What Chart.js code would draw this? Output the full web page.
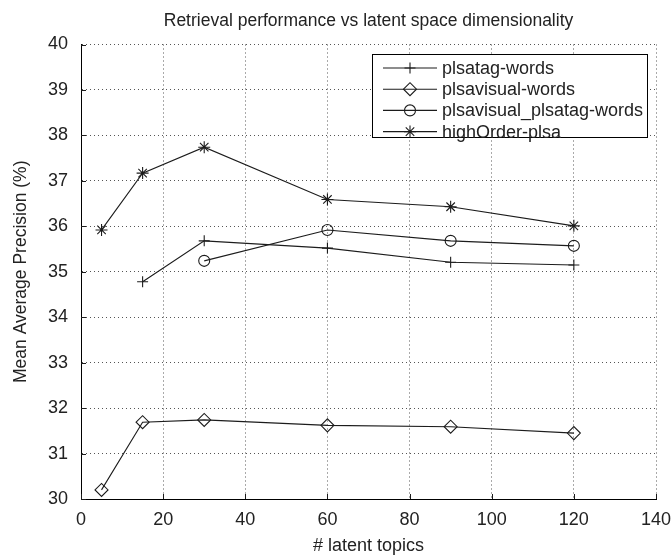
<!DOCTYPE html>
<html>
<head>
<meta charset="utf-8">
<title>Retrieval performance vs latent space dimensionality</title>
<script src="https://cdn.jsdelivr.net/npm/chart.js@4.4.1/dist/chart.umd.min.js"></script>
<style>
  html, body { margin: 0; padding: 0; background: #fff; }
  #wrap { width: 671px; height: 557px; position: relative; }
</style>
</head>
<body>
<div id="wrap"><canvas id="chart"></canvas></div>
<script>
// values
const titleText = "Retrieval performance vs latent space dimensionality";
const seriesNames = ["plsatag-words", "plsavisual-words", "plsavisual_plsatag-words", "highOrder-plsa"];
const plsatagX = [15, 30, 60, 90, 120];
const plsatagY = [34.78, 35.68, 35.52, 35.21, 35.15];
const visualX = [5, 15, 30, 60, 90, 120];
const visualY = [30.20, 31.69, 31.74, 31.62, 31.59, 31.45];
const visualTagX = [30, 60, 90, 120];
const visualTagY = [35.24, 35.92, 35.68, 35.57];
const highOrderX = [5, 15, 30, 60, 90, 120];
const highOrderY = [35.92, 37.17, 37.74, 36.59, 36.43, 36.01];
const xTicks = [0, 20, 40, 60, 80, 100, 120, 140];
const yTicks = [30, 31, 32, 33, 34, 35, 36, 37, 38, 39, 40];

const ink = "#1c1c1c";
const font = "'Liberation Sans', Arial, Helvetica, sans-serif";

function pts(xs, ys) {
    return xs.map((x, i) => ({ x: x, y: ys[i] }));
}

function makeSet(label, xs, ys, style, radius) {
    return {
        label: label,
        data: pts(xs, ys),
        borderColor: ink,
        borderWidth: 1.1,
        pointStyle: style,
        pointRadius: radius,
        pointBorderColor: ink,
        pointBackgroundColor: "rgba(0,0,0,0)",
        pointBorderWidth: 1.1,
        tension: 0
    };
}

const datasets = [
    makeSet(seriesNames[0], plsatagX, plsatagY, "cross", 5.5),
    makeSet(seriesNames[1], visualX, visualY, "rectRot", 6.5),
    makeSet(seriesNames[2], visualTagX, visualTagY, "circle", 5.5),
    makeSet(seriesNames[3], highOrderX, highOrderY, "star", 6)
];

// title centred over the plot area, as in the original
const plotTitle = {
    id: "plotTitle",
    afterDraw(chart) {
        const { ctx, chartArea: a } = chart;
        ctx.save();
        ctx.font = "17.5px " + font;
        ctx.fillStyle = "#222";
        ctx.textAlign = "center";
        ctx.textBaseline = "middle";
        ctx.fillText(titleText, (a.left + a.right) / 2, 21);
        ctx.restore();
    }
};

// inward tick marks like the original plot
const innerTicks = {
    id: "innerTicks",
    afterDraw(chart) {
        const { ctx, chartArea: a, scales } = chart;
        ctx.save();
        ctx.strokeStyle = ink;
        ctx.lineWidth = 1;
        ctx.beginPath();
        xTicks.forEach(v => {
            const px = Math.round(scales.x.getPixelForValue(v)) + 0.5;
            ctx.moveTo(px, a.bottom);
            ctx.lineTo(px, a.bottom - 5);
        });
        yTicks.forEach(v => {
            const py = Math.round(scales.y.getPixelForValue(v)) + 0.5;
            ctx.moveTo(a.left, py);
            ctx.lineTo(a.left + 5, py);
        });
        ctx.stroke();
        ctx.restore();
    }
};

// boxed legend in the upper right of the plot
const boxLegend = {
    id: "boxLegend",
    afterDraw(chart) {
        const { ctx, chartArea: a } = chart;
        const right = a.right - 9, top = a.top + 9.5;
        const w = 275, rowH = 21.2;
        const left = right - w;
        const h = 83;
        ctx.save();
        ctx.fillStyle = "#fff";
        ctx.fillRect(left, top, w, h);
        ctx.strokeStyle = "#000";
        ctx.lineWidth = 1;
        ctx.strokeRect(Math.round(left) + 0.5, Math.round(top) + 0.5, w, h);
        ctx.font = "18px " + font;
        ctx.textBaseline = "middle";
        chart.data.datasets.forEach((ds, i) => {
            const y = top + 14 + i * rowH;
            ctx.strokeStyle = ink;
            ctx.lineWidth = 1.1;
            ctx.beginPath();
            ctx.moveTo(left + 11, y);
            ctx.lineTo(left + 65, y);
            ctx.stroke();
            ctx.fillStyle = "rgba(0,0,0,0)";
            Chart.helpers.drawPoint(ctx, {
                pointStyle: ds.pointStyle,
                radius: ds.pointRadius,
                rotation: 0,
                borderWidth: 1.1
            }, left + 38, y);
            ctx.fillStyle = "#222";
            ctx.fillText(ds.label, left + 70, y + 1);
        });
        ctx.restore();
    }
};

new Chart(document.getElementById("chart"), {
    type: "line",
    data: { datasets },
    plugins: [plotTitle, innerTicks, boxLegend],
    options: {
        responsive: true,
        maintainAspectRatio: false,
        animation: false,
        layout: { padding: { left: 0, right: 15, top: 44.5, bottom: 0 } },
        plugins: {
            legend: { display: false },
            tooltip: { enabled: false },
            title: { display: false }
        },
        scales: {
            x: {
                type: "linear",
                min: 0,
                max: 140,
                afterBuildTicks: s => { s.ticks = xTicks.map(v => ({ value: v })); },
                afterFit: s => { s.height = 58; s.paddingLeft = 0; s.paddingRight = 0; },
                ticks: { color: "#222", padding: 10, font: { family: font, size: 18 } },
                grid: { color: "#555", lineWidth: 1, drawTicks: false },
                border: { display: true, color: "#000", width: 1, dash: [1, 3] },
                title: {
                    display: true,
                    text: "# latent topics",
                    color: "#222",
                    font: { family: font, size: 18 },
                    padding: { top: 0, bottom: 0 }
                }
            },
            y: {
                type: "linear",
                min: 30,
                max: 40,
                afterBuildTicks: s => { s.ticks = yTicks.map(v => ({ value: v })); },
                afterFit: s => { s.width = 81; s.paddingTop = 0; s.paddingBottom = 0; },
                ticks: { color: "#222", padding: 13, font: { family: font, size: 18 } },
                grid: { color: "#555", lineWidth: 1, drawTicks: false },
                border: { display: true, color: "#000", width: 1, dash: [1, 3] },
                title: {
                    display: true,
                    text: "Mean Average Precision (%)",
                    color: "#222",
                    font: { family: font, size: 17.5 },
                    padding: { top: 11, bottom: 0 }
                }
            }
        }
    }
});
</script>
</body>
</html>
